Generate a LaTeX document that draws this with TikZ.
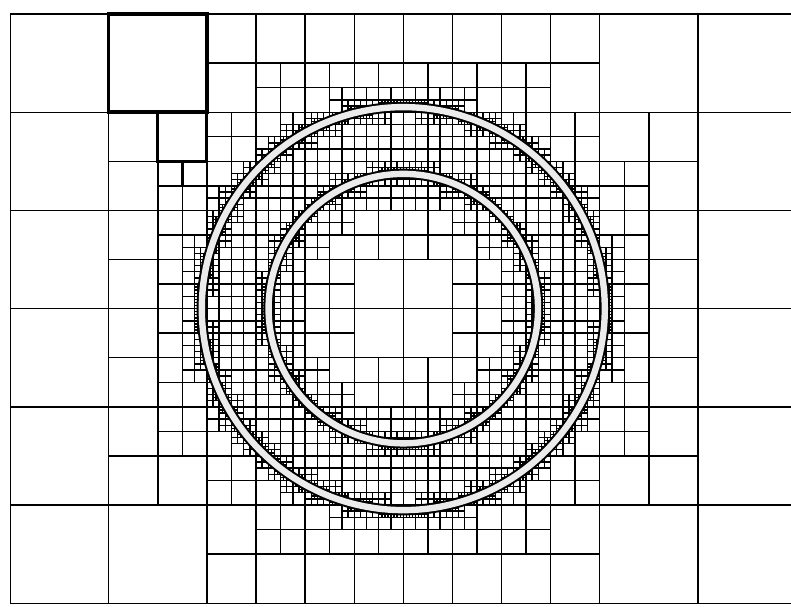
\documentclass[tikz,border=0pt]{standalone}
\tikzset{
  mesh/.style={line width=0.7pt, black},
  ring/.style={draw=black, line width=1pt, double=black!8, double distance=3.2pt},
}
\newif\ifqref
\newcommand\qtcell[4]{%
  \ifnum#4<5\relax
    \pgfmathsetmacro\qdmin{veclen(max(0,#1-4,4-#1-#3),max(0,#2-3,3-#2-#3))}%
    \pgfmathsetmacro\qdmax{veclen(max(abs(#1-4),abs(#1+#3-4)),max(abs(#2-3),abs(#2+#3-3)))}%
    \ifcase#4\relax
      \def\qAa{0.9}\def\qBa{2.5}\def\qAb{0.9}\def\qBb{2.5}%
    \or
      \def\qAa{0.95}\def\qBa{2.37}\def\qAb{0.95}\def\qBb{2.37}%
    \or
      \def\qAa{1.2}\def\qBa{2.11}\def\qAb{1.2}\def\qBb{2.11}%
    \or
      \def\qAa{1.335}\def\qBa{1.41}\def\qAb{2.015}\def\qBb{2.09}%
    \or
      \def\qAa{1.35}\def\qBa{1.395}\def\qAb{2.03}\def\qBb{2.075}%
    \fi
    \qreffalse
    \ifdim\qdmin pt<\qBa pt\relax\ifdim\qdmax pt>\qAa pt\relax\qreftrue\fi\fi
    \ifdim\qdmin pt<\qBb pt\relax\ifdim\qdmax pt>\qAb pt\relax\qreftrue\fi\fi
    \ifqref
      \pgfmathsetmacro\qhh{#3/2}%
      \pgfmathsetmacro\qxm{#1+\qhh}%
      \pgfmathsetmacro\qym{#2+\qhh}%
      \draw[mesh] (\qxm,#2) -- ++(0,#3) (#1,\qym) -- ++(#3,0);
      \edef\qnext{%
        \noexpand\qtcell{#1}{#2}{\qhh}{\the\numexpr#4+1\relax}%
        \noexpand\qtcell{\qxm}{#2}{\qhh}{\the\numexpr#4+1\relax}%
        \noexpand\qtcell{#1}{\qym}{\qhh}{\the\numexpr#4+1\relax}%
        \noexpand\qtcell{\qxm}{\qym}{\qhh}{\the\numexpr#4+1\relax}}%
      \qnext
    \fi
  \fi
}
\begin{document}
\begin{tikzpicture}[x=49.1pt,y=-49.1pt]
\useasboundingbox (-0.10692,-0.14257) rectangle (7.94807,6.02851);
\fill[white] (-0.10692,-0.14257) rectangle (7.94807,6.02851);
\clip (-0.10692,-0.14257) rectangle (7.94807,6.02851);
% coarse grid
\foreach \i in {0,...,8}{\draw[mesh] (\i,0) -- (\i,6);}
\foreach \j in {0,...,6}{\draw[mesh] (0,\j) -- (8,\j);}
% adaptive refinement
\foreach \i in {0,...,7}{\foreach \j in {0,...,5}{\qtcell{\i}{\j}{1}{0}}}
% highlighted cells
\draw[line width=1.75pt] (1,0) rectangle (2,1);
\draw[line width=1.5pt] (1.5,1) rectangle (2,1.5);
\draw[line width=1.25pt] (1.75,1.5) rectangle (2,1.75);
\draw[line width=0.8pt] (2,1.75) rectangle (2.125,1.875);
% rings
\draw[ring] (4,3) circle[radius=2.052];
\draw[ring] (4,3) circle[radius=1.372];
\end{tikzpicture}
\end{document}
